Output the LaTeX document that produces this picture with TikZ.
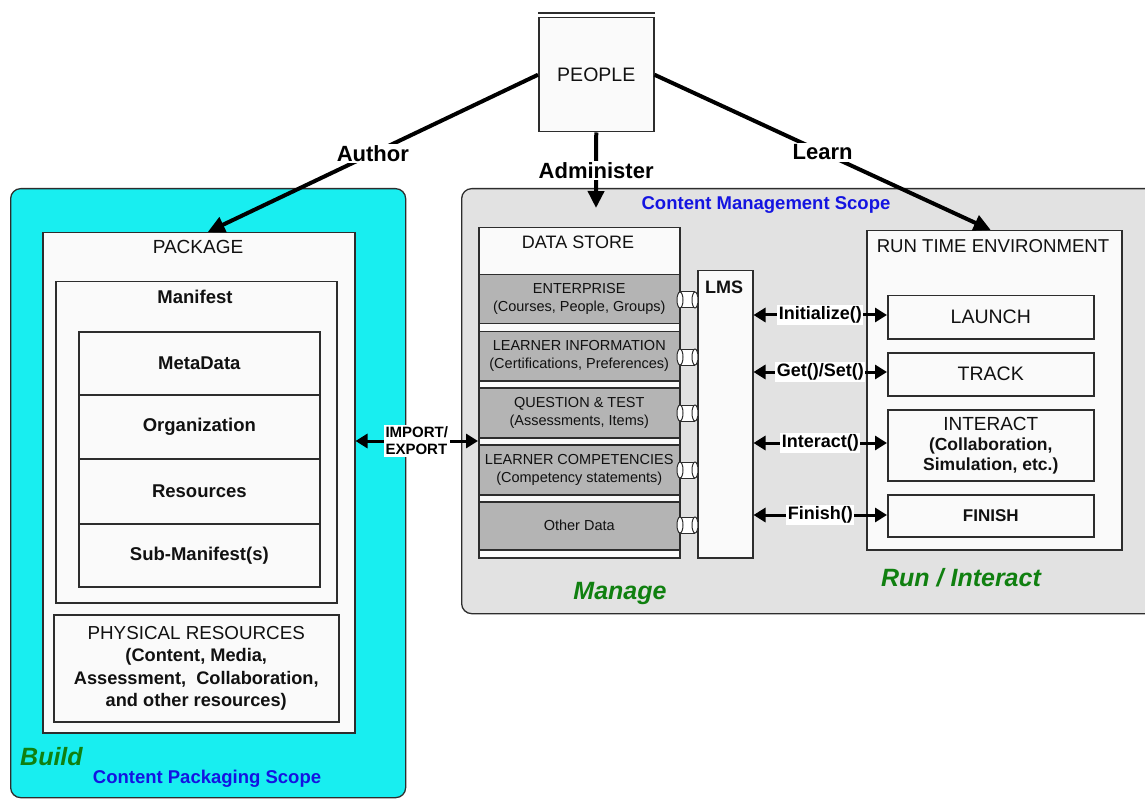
\documentclass[tikz,border=0pt]{standalone}
\usepackage{fontspec}
\setmainfont{Liberation Sans}
\usetikzlibrary{arrows.meta}
\definecolor{cyanc}{RGB}{24,238,240}
\definecolor{grayarea}{RGB}{226,226,226}
\definecolor{rowgray}{RGB}{180,180,180}
\definecolor{linec}{RGB}{45,45,45}
\definecolor{boxfill}{RGB}{250,250,250}
\definecolor{greenc}{RGB}{16,128,16}
\definecolor{bluec}{RGB}{20,20,225}
\definecolor{txt}{RGB}{17,17,17}
\newcommand{\fsz}[2]{\fontsize{#1}{#2}\selectfont}
\tikzset{
  areabox/.style={draw=linec, line width=1.3pt, rounded corners=10pt, anchor=north west, inner sep=0pt},
  box/.style={draw=linec, line width=1.5pt, fill=boxfill, inner sep=0pt, anchor=north west, text=txt, align=center},
  stackrow/.style={box, minimum width=241pt, line width=1.7pt, font=\bfseries\fsz{18.5}{22}},
  dsrow/.style={box, fill=rowgray, minimum width=201pt, font=\fsz{14.5}{18}},
  rtebox/.style={box, minimum width=206pt},
  title/.style={text=txt, inner sep=0pt},
  link/.style={line width=4pt, draw=black, -{Triangle[length=17pt,width=16pt]}},
  api/.style={line width=3pt, draw=black, {Triangle[length=12pt,width=14pt]}-{Triangle[length=12pt,width=14pt]}},
  lbl/.style={fill=white, inner sep=1.5pt, text=black},
  tube/.style={draw=linec, line width=1pt, fill=white}
}
\begin{document}
\begin{tikzpicture}[x=1pt,y=-1pt]
\clip (0,0) rectangle (1145,799);
\fill[white] (0,0) rectangle (1145,799);

% scope areas
\node[areabox, fill=cyanc, minimum width=395pt, minimum height=609pt] (pkgscope) at (10,188) {};
\node[areabox, fill=grayarea, minimum width=700pt, minimum height=425pt] (cmscope) at (461,188) {};

% people
\node[box, minimum width=115pt, minimum height=114pt, font=\fsz{19.5}{22}] (people) at (538,17) {PEOPLE};
\draw[line width=2.5pt, linec] ([yshift=4pt]people.north west) -- ([yshift=4pt]people.north east);

% package side
\node[box, minimum width=312pt, minimum height=500pt] (package) at (42,232) {};
\node[title, font=\fsz{19}{22}] (packagetitle) at (198,247) {PACKAGE};
\node[box, minimum width=281pt, minimum height=321pt] (manifest) at (55,281) {};
\node[title, font=\bfseries\fsz{18.5}{22}] (manifesttitle) at (195,297) {Manifest};
\node[stackrow, minimum height=63pt] (metadata) at (78,331) {MetaData};
\node[stackrow, minimum height=64pt] (organization) at (78,394) {Organization};
\node[stackrow, minimum height=65pt] (resources) at (78,458) {Resources};
\node[stackrow, minimum height=63pt] (submanifest) at (78,523) {Sub-Manifest(s)};
\node[box, minimum width=285pt, minimum height=107pt, font=\bfseries\fsz{18.2}{22.5}] (phys) at (53,614)
  {{\mdseries\fsz{18.8}{22.5}PHYSICAL RESOURCES}\\(Content, Media,\\Assessment,\ \ Collaboration,\\and other resources)};
\node[anchor=west, inner sep=0pt, font=\bfseries\itshape\fsz{25}{28}, text=greenc] (build) at (20,757) {Build};
\node[inner sep=0pt, font=\bfseries\fsz{18.5}{22}, text=bluec] (cpscope) at (207,779) {Content Packaging Scope};

% content management side
\node[inner sep=0pt, font=\bfseries\fsz{18.5}{22}, text=bluec] (cmtitle) at (766,205) {Content Management Scope};
\node[box, minimum width=201pt, minimum height=330pt] (datastore) at (478,227) {};
\node[title, font=\fsz{18}{22}] (dstitle) at (578,242) {DATA STORE};
\node[dsrow, minimum height=49pt] (enterprise) at (478,274) {ENTERPRISE\\(Courses, People, Groups)};
\node[dsrow, minimum height=49pt] (learnerinfo) at (478,331) {LEARNER INFORMATION\\(Certifications, Preferences)};
\node[dsrow, minimum height=50pt] (question) at (478,387) {QUESTION \& TEST\\(Assessments, Items)};
\node[dsrow, minimum height=50pt] (competencies) at (478,444) {LEARNER COMPETENCIES\\(Competency statements)};
\node[dsrow, minimum height=48pt] (otherdata) at (478,501) {Other Data};

\node[box, minimum width=55pt, minimum height=287pt] (lms) at (697,270) {};
\node[title, font=\bfseries\fsz{18}{22}] (lmstitle) at (724,287) {LMS};

\foreach \yy in {300,357,413,470,525} {
  \fill[white] (680,\yy-8) rectangle (695,\yy+8);
  \draw[tube] (680,\yy-8) -- (695,\yy-8);
  \draw[tube] (680,\yy+8) -- (695,\yy+8);
  \draw[tube] (680,\yy) ellipse (3 and 8);
  \draw[tube] (695,\yy) ellipse (3 and 8);
}

\node[box, minimum width=255pt, minimum height=319pt] (rte) at (866,230) {};
\node[title, font=\fsz{18.6}{22}] (rtetitle) at (993,246) {RUN TIME ENVIRONMENT};
\node[rtebox, minimum height=43pt, font=\fsz{19.5}{22}] (launch) at (887,295) {LAUNCH};
\node[rtebox, minimum height=43pt, font=\fsz{19.5}{22}] (track) at (887,352) {TRACK};
\node[rtebox, minimum height=71pt, font=\bfseries\fsz{17.5}{20}] (interact) at (887,409)
  {{\mdseries\fsz{19}{20}INTERACT}\\(Collaboration,\\Simulation, etc.)};
\node[rtebox, minimum height=42pt, font=\bfseries\fsz{17}{20}] (finish) at (887,494) {FINISH};

\node[inner sep=0pt, font=\bfseries\itshape\fsz{25}{28}, text=greenc] (manage) at (620,593) {Manage};
\node[inner sep=0pt, font=\bfseries\itshape\fsz{25}{28}, text=greenc] (runinteract) at (961,578) {Run / Interact};

% connectors from people
\coordinate (admintip) at (596,208);
\draw[link] (people.west) -- node[lbl, font=\bfseries\fsz{22}{24}] {Author} ([xshift=9pt]package.north);
\draw[link] (people.south) -- node[lbl, font=\bfseries\fsz{22}{24}] {Administer} (admintip);
\draw[link] (people.east) -- node[lbl, font=\bfseries\fsz{22}{24}] {Learn} ([xshift=-3.5pt]rte.north);

% import / export
\coordinate (ie) at (416,441);
\draw[api] (package.east |- ie) -- node[lbl, align=left, font=\bfseries\fsz{15}{17}] {IMPORT/\\EXPORT} (datastore.west |- ie);

% API calls
\coordinate (y1) at (0,315);
\coordinate (y2) at (0,372);
\coordinate (y3) at (0,443);
\coordinate (y4) at (0,515);
\draw[api] (lms.east |- y1) -- node[lbl, font=\bfseries\fsz{18}{20}] {Initialize()} (launch.west |- y1);
\draw[api] (lms.east |- y2) -- node[lbl, font=\bfseries\fsz{18}{20}] {Get()/Set()} (track.west |- y2);
\draw[api] (lms.east |- y3) -- node[lbl, font=\bfseries\fsz{18}{20}] {Interact()} (interact.west |- y3);
\draw[api] (lms.east |- y4) -- node[lbl, font=\bfseries\fsz{18}{20}] {Finish()} (finish.west |- y4);
\end{tikzpicture}
\end{document}
